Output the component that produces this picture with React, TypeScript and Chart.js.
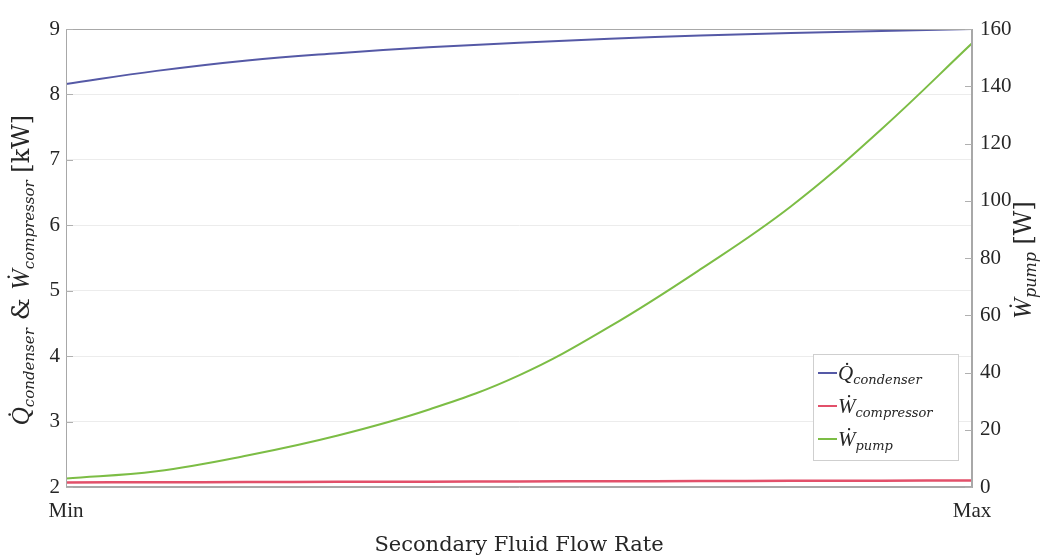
import React, { useEffect, useRef } from "react";
import { Chart, registerables } from "chart.js";

Chart.register(...registerables);

const flowFraction = [0, 0.1, 0.2, 0.3, 0.4, 0.5, 0.6, 0.7, 0.8, 0.9, 1.0];
const qCondenser = [8.16, 8.36, 8.52, 8.63, 8.72, 8.79, 8.85, 8.9, 8.94, 8.97, 9.0];
const wCompressor = [2.07, 2.073, 2.076, 2.079, 2.082, 2.085, 2.088, 2.091, 2.094, 2.097, 2.1];
const wPump = [3, 5.5, 11, 18, 27, 39, 56, 76, 98, 125, 155];
const xTickLabels = ["Min", "Max"];
const xTitle = "Secondary Fluid Flow Rate";

const BLUE = "#5559a6";
const RED = "#e2506a";
const GREEN = "#7cbd45";
const FONT = '"Liberation Serif", "DejaVu Serif", serif';
const WFONT = '"DejaVu Serif", "Liberation Serif", serif';

type Seg = { t: string; size: number; it?: boolean; dy?: number; wide?: boolean };

function segFont(s: Seg) {
  return `${s.it ? "italic " : ""}${s.size}px ${s.wide ? WFONT : FONT}`;
}

function measureRich(ctx: CanvasRenderingContext2D, segs: Seg[]) {
  let w = 0;
  for (const s of segs) {
    ctx.font = segFont(s);
    w += ctx.measureText(s.t).width;
  }
  return w;
}

function drawRich(ctx: CanvasRenderingContext2D, segs: Seg[], x: number, y: number, align: "left" | "center") {
  let cx = x;
  if (align === "center") cx = x - measureRich(ctx, segs) / 2;
  ctx.textAlign = "left";
  ctx.textBaseline = "alphabetic";
  for (const s of segs) {
    ctx.font = segFont(s);
    ctx.fillText(s.t, cx, y + (s.dy || 0));
    cx += ctx.measureText(s.t).width;
  }
}

const leftTitle: Seg[] = [
  { t: "Q\u0307", size: 25, it: true },
  { t: "condenser", size: 15, it: true, dy: 5, wide: true },
  { t: " & ", size: 25, wide: true },
  { t: "W\u0307", size: 25, it: true },
  { t: "compressor", size: 15, it: true, dy: 5, wide: true },
  { t: " [kW]", size: 24, wide: true },
];
const rightTitle: Seg[] = [
  { t: "W\u0307", size: 25, it: true },
  { t: "pump", size: 16, it: true, dy: 5, wide: true },
  { t: " [W]", size: 24, wide: true },
];
const legendItems: { color: string; segs: Seg[] }[] = [
  { color: BLUE, segs: [{ t: "Q\u0307", size: 21, it: true }, { t: "condenser", size: 13, it: true, dy: 4, wide: true }] },
  { color: RED, segs: [{ t: "W\u0307", size: 21, it: true }, { t: "compressor", size: 13, it: true, dy: 4, wide: true }] },
  { color: GREEN, segs: [{ t: "W\u0307", size: 21, it: true }, { t: "pump", size: 13, it: true, dy: 4, wide: true }] },
];

const decorPlugin = {
  id: "decor",
  afterDraw(chart: any) {
    const ctx: CanvasRenderingContext2D = chart.ctx;
    const a = chart.chartArea;
    ctx.save();
    ctx.strokeStyle = "#a8a8a8";
    ctx.lineWidth = 1;
    ctx.strokeRect(a.left + 0.5, a.top + 0.5, a.right - a.left - 1, a.bottom - a.top - 1);
    const yl = chart.scales.y;
    const yr = chart.scales.y1;
    ctx.strokeStyle = "#b0b0b0";
    for (const t of yl.ticks) {
      const py = Math.round(yl.getPixelForValue(t.value)) + 0.5;
      ctx.beginPath();
      ctx.moveTo(a.left, py);
      ctx.lineTo(a.left + 7, py);
      ctx.stroke();
    }
    for (const t of yr.ticks) {
      const py = Math.round(yr.getPixelForValue(t.value)) + 0.5;
      ctx.beginPath();
      ctx.moveTo(a.right - 7, py);
      ctx.lineTo(a.right, py);
      ctx.stroke();
    }
    ctx.fillStyle = "#262626";
    ctx.save();
    ctx.translate(23, 270);
    ctx.rotate(-Math.PI / 2);
    drawRich(ctx, leftTitle, 0, 6, "center");
    ctx.restore();
    ctx.save();
    ctx.translate(1025, 260);
    ctx.rotate(-Math.PI / 2);
    drawRich(ctx, rightTitle, 0, 6, "center");
    ctx.restore();
    ctx.font = `21px ${WFONT}`;
    ctx.textAlign = "center";
    ctx.textBaseline = "alphabetic";
    ctx.fillText(xTitle, (a.left + a.right) / 2, 551);
    const lw = 145, lh = 106;
    const lx = a.right - 14 - lw;
    const ly = a.bottom - 27 - lh;
    ctx.fillStyle = "#ffffff";
    ctx.fillRect(lx, ly, lw, lh);
    ctx.strokeStyle = "#cfcfcf";
    ctx.strokeRect(lx + 0.5, ly + 0.5, lw, lh);
    legendItems.forEach((it, i) => {
      const cy = ly + 19 + i * 33;
      ctx.strokeStyle = it.color;
      ctx.lineWidth = 2;
      ctx.beginPath();
      ctx.moveTo(lx + 5, cy);
      ctx.lineTo(lx + 24, cy);
      ctx.stroke();
      ctx.fillStyle = "#262626";
      drawRich(ctx, it.segs, lx + 25, cy + 7, "left");
    });
    ctx.restore();
  },
};

export default function App() {
  const ref = useRef<HTMLCanvasElement>(null);
  useEffect(() => {
    if (!ref.current) return;
    const mk = (ys: number[]) => flowFraction.map((x, i) => ({ x, y: ys[i] }));
    const chart = new Chart(ref.current, {
      type: "line",
      data: {
        datasets: [
          { label: "Q condenser", data: mk(qCondenser), borderColor: BLUE, borderWidth: 2, pointRadius: 0, tension: 0.4, yAxisID: "y" },
          { label: "W compressor", data: mk(wCompressor), borderColor: RED, borderWidth: 2.5, pointRadius: 0, tension: 0.4, yAxisID: "y" },
          { label: "W pump", data: mk(wPump), borderColor: GREEN, borderWidth: 2, pointRadius: 0, tension: 0.4, yAxisID: "y1" },
        ],
      },
      options: {
        animation: false,
        responsive: false,
        maintainAspectRatio: false,
        layout: { padding: { top: 29, left: 0, right: 0, bottom: 0 } },
        plugins: { legend: { display: false }, tooltip: { enabled: false } },
        scales: {
          x: {
            type: "linear",
            min: 0,
            max: 1,
            afterBuildTicks: (s: any) => { s.ticks = [{ value: 0 }, { value: 1 }]; },
            afterFit: (s: any) => { s.height = 71; },
            ticks: {
              padding: 12,
              color: "#262626",
              font: { family: FONT, size: 21 },
              maxRotation: 0,
              callback: (_v: any, i: number) => xTickLabels[i],
            },
            grid: { display: false, drawTicks: false },
            border: { display: true, color: "#a8a8a8" },
          },
          y: {
            position: "left",
            min: 2,
            max: 9,
            afterFit: (s: any) => { s.width = 66; },
            ticks: { stepSize: 1, padding: 6, color: "#262626", font: { family: FONT, size: 21 } },
            grid: { color: "#ececec", lineWidth: 1, drawTicks: false },
            border: { display: true, color: "#a8a8a8" },
          },
          y1: {
            position: "right",
            min: 0,
            max: 160,
            afterFit: (s: any) => { s.width = 74; },
            ticks: { stepSize: 20, padding: 8, color: "#262626", font: { family: FONT, size: 21 } },
            grid: { display: false, drawTicks: false },
            border: { display: true, color: "#a8a8a8" },
          },
        },
      },
      plugins: [decorPlugin],
    } as any);
    return () => chart.destroy();
  }, []);
  return (
    <div style={{ position: "fixed", left: 0, top: 0, width: 1046, height: 558, background: "#fff" }}>
      <canvas ref={ref} width={1046} height={558} style={{ width: 1046, height: 558 }} />
    </div>
  );
}
